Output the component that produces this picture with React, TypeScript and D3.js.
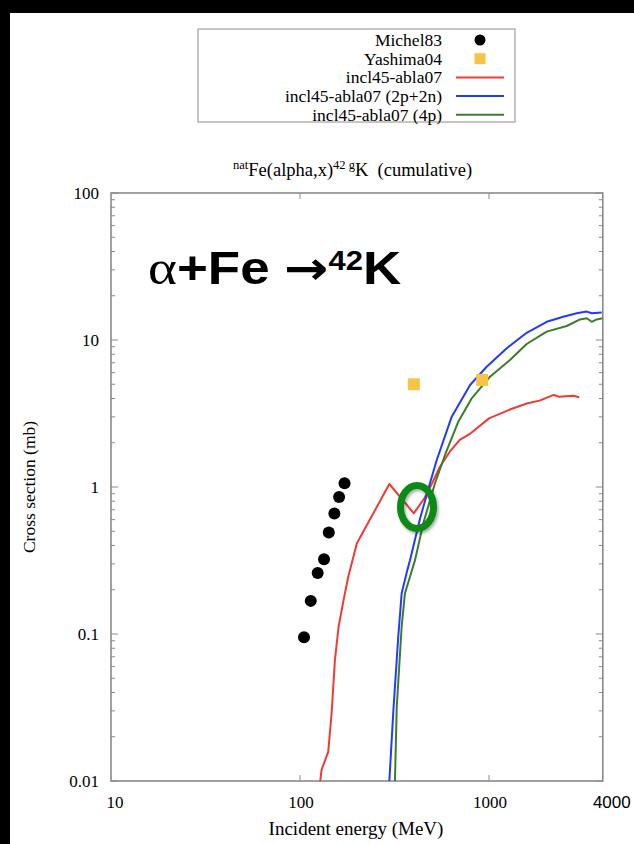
import React from "react";
import * as d3 from "d3";

// Michel83 measurements (alpha on natFe -> 42K)
const michelEnergy = [105, 114, 124, 134, 142, 152, 161, 172];
const michelXs = [0.095, 0.168, 0.26, 0.322, 0.49, 0.66, 0.855, 1.06];

// Yashima04 measurements
const yashimaEnergy = [400, 920];
const yashimaXs = [5.0, 5.35];

// incl45-abla07
const inclEnergy = [128, 130, 141, 147, 153, 160, 170, 180, 200, 297, 400, 455, 500, 550, 620, 700, 800, 1000, 1300, 1600, 1850, 2200, 2350, 2800, 3000];
const inclXs = [0.01, 0.0119, 0.0158, 0.029, 0.0665, 0.112, 0.17, 0.245, 0.414, 1.048, 0.662, 0.838, 1.06, 1.374, 1.738, 2.09, 2.32, 2.93, 3.38, 3.71, 3.87, 4.23, 4.11, 4.18, 4.08];

// incl45-abla07 (2p+2n)
const pnEnergy = [297, 312, 331, 345, 359, 370, 382, 432, 487, 529, 635, 794, 972, 1241, 1582, 2019, 2473, 2911, 3288, 3494, 3948];
const pnXs = [0.01, 0.0304, 0.0958, 0.189, 0.233, 0.273, 0.318, 0.612, 1.06, 1.527, 3.01, 4.94, 6.58, 8.78, 11.2, 13.3, 14.4, 15.2, 15.6, 15.2, 15.4];

// incl45-abla07 (4p)
const fourPEnergy = [318, 325, 345, 359, 382, 406, 449, 518, 585, 688, 810, 1012, 1291, 1582, 2019, 2577, 3030, 3288, 3494, 3718, 3981];
const fourPXs = [0.01, 0.032, 0.112, 0.189, 0.245, 0.318, 0.566, 1.06, 1.651, 2.78, 4.01, 5.63, 7.31, 9.39, 11.4, 12.45, 13.8, 14.05, 13.3, 13.8, 14.05];

const yTickValues = [0.01, 0.1, 1, 10, 100];
const yTickLabels = ["0.01", "0.1", "1", "10", "100"];
const xTickValues = [10, 100, 1000, 4000];
const xTickLabels = ["10", "100", "1000", "4000"];

const legendLabels = ["Michel83", "Yashima04", "incl45-abla07", "incl45-abla07 (2p+2n)", "incl45-abla07 (4p)"];

const RED = "#f03a32";
const BLUE = "#1f3cff";
const GREEN = "#3c7d2c";
const GOLD = "#f8c445";
const FRAME = "#8a8a8a";
const SERIF = "'Liberation Serif', 'DejaVu Serif', serif";
const SANS = "'Liberation Sans', Arial, sans-serif";

export default function App() {
  const W = 634;
  const H = 844;
  const left = 111;
  const right = 602.8;
  const top = 193;
  const bottom = 781;

  const x = d3.scaleLog().domain([10, 4000]).range([left, right]);
  const y = d3.scaleLog().domain([0.01, 100]).range([bottom, top]);

  const line = d3
    .line<[number, number]>()
    .x((d) => x(d[0]))
    .y((d) => y(d[1]));

  const zip = (a: number[], b: number[]) => a.map((v, i) => [v, b[i]] as [number, number]);

  // minor ticks 2..9 within each decade
  const minorY: number[] = [];
  for (let p = -2; p < 2; p++) {
    for (let k = 2; k <= 9; k++) minorY.push(k * Math.pow(10, p));
  }

  const legendRowY = (i: number) => 40 + i * 18.7;

  return (
    <svg
      width={W}
      height={H}
      style={{ position: "absolute", left: 0, top: 0, display: "block" }}
    >
      <rect x={0} y={0} width={W} height={H} fill="#000" />
      <rect x={10} y={13} width={W - 10} height={H - 13} fill="#fff" />

      <defs>
        <clipPath id="plot-clip">
          <rect x={left} y={top} width={right - left} height={bottom - top} />
        </clipPath>
        <filter id="soft-shadow" x="-50%" y="-50%" width="200%" height="200%">
          <feDropShadow dx={1.5} dy={2} stdDeviation={1.5} floodColor="#000" floodOpacity={0.35} />
        </filter>
      </defs>

      {/* legend */}
      <rect x={198} y={29} width={317} height={93} fill="#fff" stroke="#a0a0a0" strokeWidth={1.2} />
      {legendLabels.map((lab, i) => (
        <text
          key={lab}
          x={442}
          y={legendRowY(i) + 6}
          textAnchor="end"
          fontFamily={SERIF}
          fontSize={17.5}
          fill="#000"
        >
          {lab}
        </text>
      ))}
      <circle cx={480} cy={legendRowY(0)} r={5.5} fill="#000" />
      <rect x={474.5} y={legendRowY(1) - 5.5} width={11} height={11} fill={GOLD} />
      <line x1={456} x2={504} y1={legendRowY(2)} y2={legendRowY(2)} stroke={RED} strokeWidth={2} />
      <line x1={456} x2={504} y1={legendRowY(3)} y2={legendRowY(3)} stroke={BLUE} strokeWidth={2} />
      <line x1={456} x2={504} y1={legendRowY(4)} y2={legendRowY(4)} stroke={GREEN} strokeWidth={2} />

      {/* title */}
      <text x={233} y={176} fontFamily={SERIF} fontSize={18.5} fill="#000" style={{ whiteSpace: "pre" }}>
        <tspan fontSize={12.5} dy={-7}>nat</tspan>
        <tspan fontSize={18.5} dy={7}>Fe(alpha,x)</tspan>
        <tspan fontSize={12.5} dy={-7}>42 g</tspan>
        <tspan fontSize={18.5} dy={7}>K  (cumulative)</tspan>
      </text>

      {/* frame */}
      <rect x={left} y={top} width={right - left} height={bottom - top} fill="none" stroke={FRAME} strokeWidth={1.6} />

      {/* y ticks, left and right, mirrored */}
      {yTickValues.map((v) => (
        <g key={"ym" + v}>
          <line x1={left} x2={left + 7} y1={y(v)} y2={y(v)} stroke={FRAME} strokeWidth={1} />
          <line x1={right} x2={right - 7} y1={y(v)} y2={y(v)} stroke={FRAME} strokeWidth={1} />
        </g>
      ))}
      {minorY.map((v) => (
        <g key={"yn" + v}>
          <line x1={left} x2={left + 4} y1={y(v)} y2={y(v)} stroke={FRAME} strokeWidth={1} />
          <line x1={right} x2={right - 4} y1={y(v)} y2={y(v)} stroke={FRAME} strokeWidth={1} />
        </g>
      ))}
      {/* x ticks */}
      {[100, 1000].map((v) => (
        <g key={"xm" + v}>
          <line x1={x(v)} x2={x(v)} y1={bottom} y2={bottom - 6} stroke={FRAME} strokeWidth={1} />
          <line x1={x(v)} x2={x(v)} y1={top} y2={top + 6} stroke={FRAME} strokeWidth={1} />
        </g>
      ))}

      {/* tick labels */}
      {yTickValues.map((v, i) => (
        <text key={"yl" + v} x={99} y={y(v) + 6} textAnchor="end" fontFamily={SERIF} fontSize={17} fill="#000">
          {yTickLabels[i]}
        </text>
      ))}
      {xTickValues.map((v, i) => (
        <text
          key={"xl" + v}
          x={x(v) + (v === 10 ? 4 : v === 4000 ? 9 : 1)}
          y={808}
          textAnchor="middle"
          fontFamily={v === 4000 ? SANS : SERIF}
          fontSize={17}
          fill="#000"
        >
          {xTickLabels[i]}
        </text>
      ))}

      {/* axis titles */}
      <text x={356} y={835} textAnchor="middle" fontFamily={SERIF} fontSize={19} fill="#000">
        Incident energy (MeV)
      </text>
      <text
        transform={`translate(35, 487) rotate(-90)`}
        textAnchor="middle"
        fontFamily={SERIF}
        fontSize={17.5}
        fill="#000"
      >
        Cross section (mb)
      </text>

      {/* model curves */}
      <g clipPath="url(#plot-clip)" fill="none" strokeWidth={2} strokeLinejoin="round">
        <path d={line(zip(inclEnergy, inclXs)) || ""} stroke={RED} />
        <path d={line(zip(fourPEnergy, fourPXs)) || ""} stroke={GREEN} />
        <path d={line(zip(pnEnergy, pnXs)) || ""} stroke={BLUE} />
      </g>

      {/* data points */}
      {michelEnergy.map((e, i) => (
        <circle key={"m" + i} cx={x(e)} cy={y(michelXs[i])} r={6} fill="#000" />
      ))}
      {yashimaEnergy.map((e, i) => (
        <rect key={"y" + i} x={x(e) - 6} y={y(yashimaXs[i]) - 6} width={12} height={12} fill={GOLD} />
      ))}

      {/* crossing marker */}
      <ellipse
        cx={417}
        cy={507}
        rx={16.5}
        ry={21.5}
        fill="none"
        stroke="#0b8a12"
        strokeWidth={7}
        filter="url(#soft-shadow)"
      />

      {/* reaction label */}
      <g transform="translate(148, 284) scale(1.15, 1)">
        <text x={0} y={0} fontFamily={SANS} fontWeight="bold" fontSize={46} fill="#000">
          <tspan fontFamily={SERIF} fontWeight="normal" fontSize={48}>α</tspan>
          <tspan>+Fe </tspan>
          <tspan fontFamily="'DejaVu Sans', sans-serif">→</tspan>
          <tspan fontSize={27} dy={-14}>42</tspan>
          <tspan dy={14}>K</tspan>
        </text>
      </g>
    </svg>
  );
}
